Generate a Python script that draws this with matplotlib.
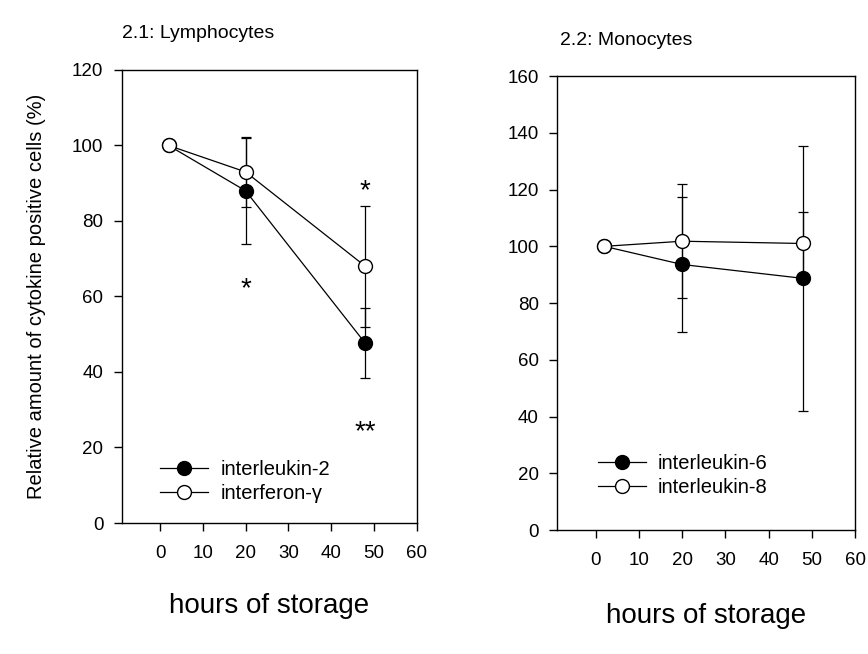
import matplotlib
matplotlib.use("Agg")
import matplotlib.pyplot as plt

plt.rcParams['font.family'] = ['Liberation Sans', 'DejaVu Sans']

hours = [2, 20, 48]

# Panel 2.1: Lymphocytes
il2 = [100, 88, 47.6]
il2_err = [0, 14, 9.3]
ifng = [100, 93, 68]
ifng_err = [0, 9.3, 16]

# Panel 2.2: Monocytes
il6 = [100, 93.6, 88.7]
il6_err = [0, 23.7, 46.6]
il8 = [100, 101.8, 101]
il8_err = [0, 20, 11]

# significance marks (x, y, text)
sig_x = [20, 48, 48]
sig_y = [62, 88, 24]
sig_txt = ['*', '*', '**']

xticks = [0, 10, 20, 30, 40, 50, 60]

fig = plt.figure(figsize=(8.68, 6.54), dpi=100)
ax1 = fig.add_axes([0.140, 0.2003, 0.340, 0.6927])
ax2 = fig.add_axes([0.6414, 0.1896, 0.3437, 0.694])

def series(ax, y, err, filled, label):
    ax.errorbar(hours, y, yerr=err, fmt='none', ecolor='black', elinewidth=0.9,
                capsize=3.5, capthick=0.9, zorder=2)
    ax.plot(hours, y, color='black', lw=0.9, marker='o', markersize=10,
            markerfacecolor='black' if filled else 'white',
            markeredgecolor='black', markeredgewidth=1.0, label=label, zorder=3)

def style(ax, ymax, ystep):
    ax.set_xlim(-9, 60)
    ax.set_ylim(0, ymax)
    ax.set_xticks(xticks)
    ax.set_yticks(range(0, ymax + 1, ystep))
    ax.tick_params(direction='out', length=6, width=1, labelsize=13.5, pad=7)
    ax.tick_params(axis='x', pad=10)
    for s in ax.spines.values():
        s.set_linewidth(1.0)
    ax.set_xlabel('hours of storage', fontsize=20, va='top')

series(ax1, il2, il2_err, True, 'interleukin-2')
series(ax1, ifng, ifng_err, False, 'interferon-γ')
style(ax1, 120, 20)
ax1.xaxis.set_label_coords(0.5, -0.155)
ax1.set_ylabel('Relative amount of cytokine positive cells (%)', fontsize=14.5)
ax1.yaxis.set_label_coords(-0.255, 0.5)
ax1.text(0.0, 1.07, '2.1: Lymphocytes', transform=ax1.transAxes, fontsize=14,
         ha='left', va='baseline')
for xs, ys, t in zip(sig_x, sig_y, sig_txt):
    ax1.text(xs, ys, t, ha='center', va='center', fontsize=20)
ax1.legend(loc='lower left', bbox_to_anchor=(0.103, 0.026), frameon=False, fontsize=14.5,
           handlelength=2.4, handletextpad=0.6, labelspacing=0.25, borderaxespad=0)

series(ax2, il6, il6_err, True, 'interleukin-6')
series(ax2, il8, il8_err, False, 'interleukin-8')
style(ax2, 160, 20)
ax2.xaxis.set_label_coords(0.5, -0.16)
ax2.text(0.01, 1.068, '2.2: Monocytes', transform=ax2.transAxes, fontsize=14,
         ha='left', va='baseline')
ax2.legend(loc='lower left', bbox_to_anchor=(0.11, 0.055), frameon=False, fontsize=14.5,
           handlelength=2.4, handletextpad=0.6, labelspacing=0.25, borderaxespad=0)

fig.savefig('out.png', dpi=100)
